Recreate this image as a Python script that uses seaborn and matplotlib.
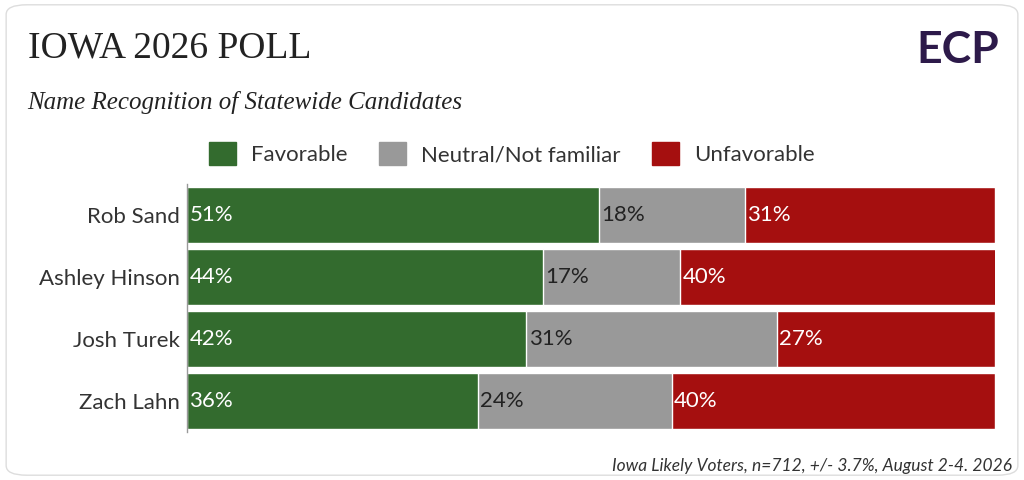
import numpy as np
import pandas as pd
import seaborn as sns
import matplotlib.pyplot as plt
from matplotlib.patches import FancyBboxPatch, Patch

# data
candidates = ['Rob Sand', 'Ashley Hinson', 'Josh Turek', 'Zach Lahn']
favorable = [51, 44, 42, 36]
neutral = [18, 17, 31, 24]
unfavorable = [31, 40, 27, 40]

c_fav, c_neu, c_unf = '#336b2e', '#999999', '#a50f0f'

df = pd.DataFrame({'name': candidates, 'fav': favorable, 'neu': neutral, 'unf': unfavorable})
df['fav_neu'] = df['fav'] + df['neu']
df['total'] = df['fav_neu'] + df['unf']

sns.set_style('white')
plt.rcParams['font.family'] = ['Lato', 'DejaVu Sans']

fig = plt.figure(figsize=(10.24, 4.8), dpi=100)
ax = fig.add_axes([0.1826, 0.1, 0.7891, 0.5167])

# stacked bars drawn back to front
sns.barplot(data=df, y='name', x='total', color=c_unf, width=0.9, orient='h', ax=ax, saturation=1)
sns.barplot(data=df, y='name', x='fav_neu', color=c_neu, width=0.9, orient='h', ax=ax, saturation=1)
sns.barplot(data=df, y='name', x='fav', color=c_fav, width=0.9, orient='h', ax=ax, saturation=1)

for i, r in df.iterrows():
    ax.text(0.3, i, f"{r['fav']}%", color='white', va='center', ha='left', fontsize=16)
    ax.text(r['fav'] + 0.3, i, f"{r['neu']}%", color='#222222', va='center', ha='left', fontsize=16)
    ax.text(r['fav_neu'] + 0.3, i, f"{r['unf']}%", color='white', va='center', ha='left', fontsize=16)

ax.set_xlim(0, 100)
ax.set_ylim(3.5, -0.5)
ax.set_xlabel('')
ax.set_ylabel('')
ax.set_xticks([])
ax.tick_params(axis='y', length=0, labelsize=16, labelcolor='#333333', pad=5)
for s in ['top', 'right', 'bottom']:
    ax.spines[s].set_visible(False)
ax.spines['left'].set_color('#999999')
ax.spines['left'].set_linewidth(1)

handles = [Patch(color=c_fav, label='Favorable'),
           Patch(color=c_neu, label='Neutral/Not familiar'),
           Patch(color=c_unf, label='Unfavorable')]
fig.legend(handles=handles, loc='center', bbox_to_anchor=(0.5, 0.68), ncol=3, frameon=False,
           fontsize=16, handlelength=1.2, handleheight=1.2, handletextpad=0.7,
           columnspacing=1.4, labelcolor='#333333')

fig.text(0.027, 0.9, 'IOWA 2026 POLL', fontsize=27, family='Liberation Serif', color='#222222', va='center')
fig.text(0.027, 0.787, 'Name Recognition of Statewide Candidates', fontsize=18, family='Liberation Serif',
         style='italic', color='#222222', va='center')
fig.text(0.988, 0.03, 'Iowa Likely Voters, n=712, +/- 3.7%, August 2-4. 2026', fontsize=12.5,
         style='italic', color='#333333', ha='right', va='center')
fig.text(0.935, 0.895, 'ECP', fontsize=32, weight='bold', color='#2d1a4a', ha='center', va='center')

fig.patches.append(FancyBboxPatch((0.006, 0.01), 0.988, 0.98, boxstyle='round,pad=0,rounding_size=0.02',
                                  transform=fig.transFigure, fill=False, edgecolor='#dddddd', lw=1))

fig.savefig('out.png', dpi=100)
